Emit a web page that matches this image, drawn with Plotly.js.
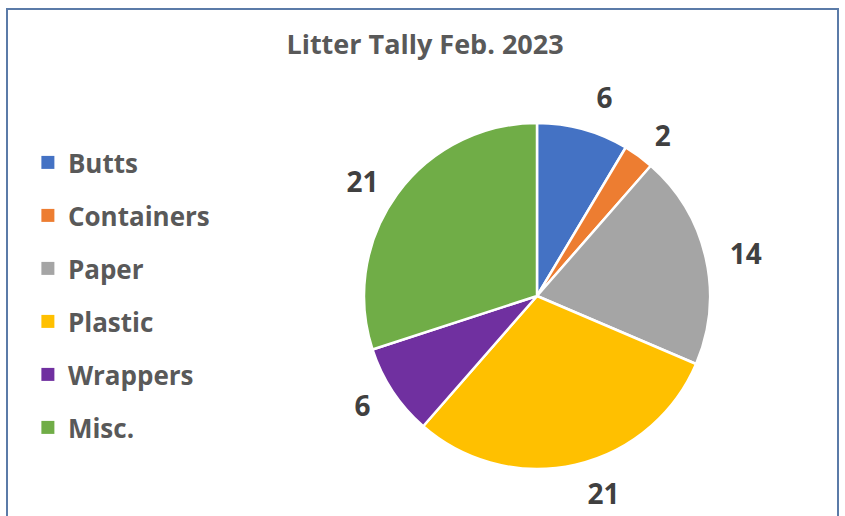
<!DOCTYPE html>
<html>
<head>
<meta charset="utf-8">
<script src="https://cdn.plot.ly/plotly-3.0.1.min.js"></script>
<style>
  html, body { margin: 0; padding: 0; background: #ffffff; }
  #chart { width: 845px; height: 516px; }
</style>
</head>
<body>
<div id="chart"></div>
<script>
const categories = ["Butts", "Containers", "Paper", "Plastic", "Wrappers", "Misc."];
const counts = [6, 2, 14, 21, 6, 21];
const sliceColors = ["#4472C4", "#ED7D31", "#A5A5A5", "#FFC000", "#7030A0", "#70AD47"];
const chartTitle = "Litter Tally Feb. 2023";

const W = 845, H = 516;
const cx = 537, cy = 296, r = 173;
const FONT = "Open Sans, sans-serif";

function domainFor(rad) {
  return { x: [(cx - rad) / W, (cx + rad) / W], y: [1 - (cy + rad) / H, 1 - (cy - rad) / H] };
}

const pieTrace = {
  type: "pie",
  labels: categories,
  values: counts,
  sort: false,
  direction: "clockwise",
  rotation: 0,
  marker: { colors: sliceColors, line: { color: "#ffffff", width: 2.5 } },
  textinfo: "none",
  domain: domainFor(r),
  showlegend: false,
  hoverinfo: "skip"
};

// transparent companion pies carrying the value labels a little further out
// (alternate slices in two traces so neighbouring labels are not pushed apart)
function labelPie(parity, rad) {
  return {
    type: "pie",
    labels: categories,
    values: counts,
    sort: false,
    direction: "clockwise",
    rotation: 0,
    marker: { colors: categories.map(() => "rgba(0,0,0,0)"), line: { width: 0 } },
    texttemplate: counts.map((v, i) => (i % 2 === parity ? "%{value}" : "")),
    textposition: "outside",
    outsidetextfont: { family: FONT, size: 28, color: "#404040", weight: "bold" },
    domain: domainFor(rad),
    showlegend: false,
    hoverinfo: "skip"
  };
}

// legend entries for the slices
const legendTraces = categories.map((c, i) => ({
  type: "scatter",
  mode: "markers",
  x: [null], y: [null],
  name: c,
  legendgroup: c,
  marker: { symbol: "square", size: 13, color: sliceColors[i] },
  showlegend: true,
  hoverinfo: "skip"
}));

const layout = {
  width: W, height: H,
  margin: { l: 0, r: 0, t: 0, b: 0 },
  paper_bgcolor: "#ffffff",
  plot_bgcolor: "rgba(0,0,0,0)",
  xaxis: { visible: false },
  yaxis: { visible: false },
  title: {
    text: chartTitle,
    x: 0.503, xanchor: "center",
    y: 1 - 45 / H, yanchor: "middle",
    font: { family: FONT, size: 27, color: "#595959", weight: "bold" }
  },
  showlegend: true,
  legend: {
    x: 0.033, xanchor: "left",
    y: 1 - 139 / H, yanchor: "top",
    font: { family: FONT, size: 26, color: "#595959", weight: "bold" },
    tracegroupgap: 16.2,
    itemclick: false
  },
  shapes: [{
    type: "rect", xref: "paper", yref: "paper",
    x0: 7 / W, x1: 838 / W, y0: -0.05, y1: 1 - 9 / H,
    line: { color: "#5b7ba8", width: 2 }, fillcolor: "rgba(0,0,0,0)"
  }]
};

Plotly.newPlot("chart", [pieTrace, labelPie(0, 188), labelPie(1, 184), ...legendTraces], layout,
  { displayModeBar: false, staticPlot: true });
</script>
</body>
</html>
